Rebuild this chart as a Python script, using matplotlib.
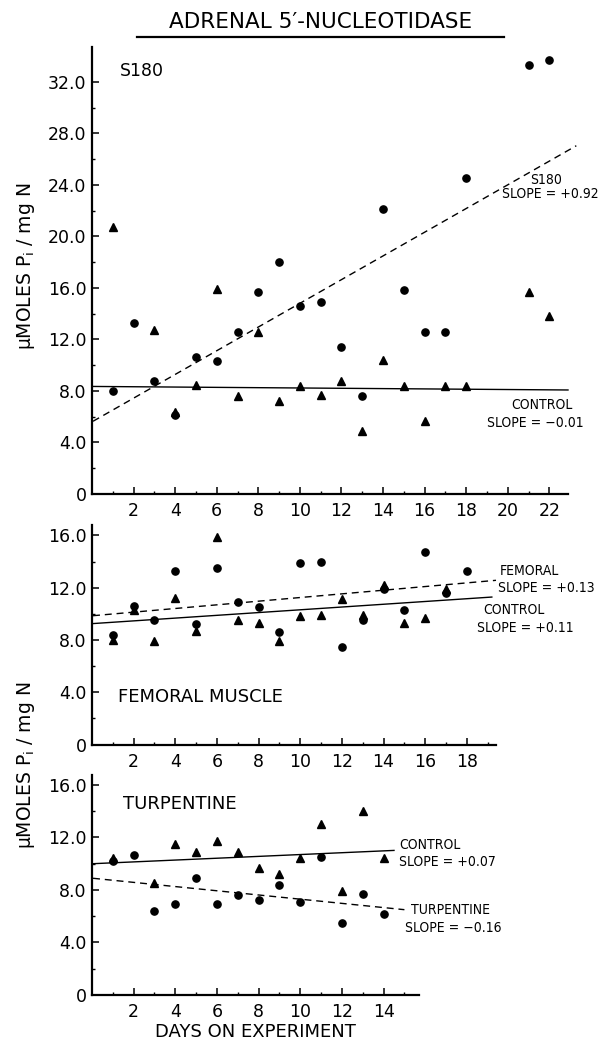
import numpy as np
import matplotlib
matplotlib.use("Agg")
import matplotlib.pyplot as plt
from matplotlib.lines import Line2D
from matplotlib.ticker import MultipleLocator, FixedLocator, FixedFormatter

plt.rcParams['font.family'] = ['DejaVu Sans']
plt.rcParams['mathtext.default'] = 'regular'

W, H = 605, 1040

# ---- S180 panel ----
s180_days = [1, 2, 3, 4, 5, 6, 7, 8, 9, 10, 11, 12, 13, 14, 15, 16, 17, 18, 21, 22]
s180_vals = [8.0, 13.3, 8.8, 6.1, 10.6, 10.3, 12.6, 15.7, 18.0, 14.6, 14.9, 11.4, 7.6,
             22.1, 15.8, 12.6, 12.6, 24.5, 33.3, 33.7]
s180_ctrl_days = [1, 3, 4, 5, 6, 7, 8, 9, 10, 11, 12, 13, 14, 15, 16, 17, 18, 21, 22]
s180_ctrl_vals = [20.7, 12.7, 6.4, 8.5, 15.9, 7.6, 12.6, 7.2, 8.4, 7.7, 8.8, 4.9, 10.4,
                  8.4, 5.7, 8.4, 8.4, 15.7, 13.8]

# ---- femoral muscle panel ----
fem_days = list(range(1, 19))
fem_vals = [8.4, 10.6, 9.5, 13.3, 9.2, 13.5, 10.9, 10.5, 8.6, 13.9, 14.0, 7.5, 9.5,
            11.9, 10.3, 14.7, 11.6, 13.3]
fem_ctrl_days = list(range(1, 18))
fem_ctrl_vals = [8.0, 10.3, 7.9, 11.2, 8.7, 15.9, 9.5, 9.3, 7.9, 9.8, 9.9, 11.1, 9.9,
                 12.2, 9.3, 9.7, 11.9]

# ---- turpentine panel ----
turp_days = list(range(1, 15))
turp_vals = [10.2, 10.7, 6.4, 6.9, 8.9, 6.9, 7.6, 7.2, 8.4, 7.1, 10.5, 5.5, 7.7, 6.2]
turp_ctrl_days = [1, 3, 4, 5, 6, 7, 8, 9, 10, 11, 12, 13, 14]
turp_ctrl_vals = [10.4, 8.5, 11.5, 10.9, 11.7, 10.9, 9.7, 9.2, 10.4, 13.0, 7.9, 14.0, 10.4]

# regression lines: (intercept, slope, last day)
s180_fit = (5.6, 0.92, 23.3)
s180_ctrl_fit = (8.35, -0.012, 22.9)
fem_fit = (9.85, 0.14, 19.4)
fem_ctrl_fit = (9.25, 0.106, 19.2)
turp_fit = (8.9, -0.16, 15.0)
turp_ctrl_fit = (10.0, 0.07, 14.5)


def px_axes(fig, x0, x1, y_top, y_bot):
    return fig.add_axes([x0 / W, 1 - y_bot / H, (x1 - x0) / W, (y_bot - y_top) / H])


def style_axes(ax, xmax, ymax, yticks, xticks):
    ax.set_xlim(0, xmax)
    ax.set_ylim(0, ymax)
    for s in ['top', 'right']:
        ax.spines[s].set_visible(False)
    for s in ['left', 'bottom']:
        ax.spines[s].set_linewidth(1.6)
    ax.yaxis.set_major_locator(FixedLocator(yticks))
    ax.yaxis.set_major_formatter(FixedFormatter(['0'] + ['%.1f' % v for v in yticks[1:]]))
    ax.yaxis.set_minor_locator(FixedLocator([v + 2 for v in yticks[:-1]]))
    ax.xaxis.set_major_locator(FixedLocator(xticks))
    ax.xaxis.set_major_formatter(FixedFormatter([str(v) for v in xticks]))
    ax.xaxis.set_minor_locator(FixedLocator([v - 1 for v in xticks] + [xticks[-1] + 1]))
    ax.tick_params(which='major', direction='in', length=5, width=1.1, labelsize=12.5, pad=4)
    ax.tick_params(which='minor', direction='in', length=2.5, width=1.0)
    ax.tick_params(axis='x', pad=6)


def fit_line(ax, fit, style):
    b, m, xe = fit
    xs = np.array([0.05, xe])
    ax.plot(xs, b + m * xs, color='k', lw=1.0, linestyle=style, clip_on=False,
            dashes=(5, 3.5) if style == '--' else (None, None))


def ftext(fig, x, y, s, **kw):
    fig.text(x / W, 1 - y / H, s, **kw)


fig = plt.figure(figsize=(W / 100, H / 100), dpi=100)

narrow = dict(family=['Liberation Sans Narrow', 'DejaVu Sans'], fontstretch='condensed',
              fontsize=10)

# top panel
ax1 = px_axes(fig, 92, 568, 47, 494)
style_axes(ax1, 22.9, 34.7, [0, 4, 8, 12, 16, 20, 24, 28, 32], list(range(2, 23, 2)))
fit_line(ax1, s180_fit, '--')
fit_line(ax1, s180_ctrl_fit, '-')
ax1.plot(s180_days, s180_vals, 'o', color='k', ms=5.2, clip_on=False)
ax1.plot(s180_ctrl_days, s180_ctrl_vals, '^', color='k', ms=5.2, clip_on=False)
ax1.text(1.35, 32.8, 'S180', fontsize=12.5, va='center')

# middle panel
ax2 = px_axes(fig, 92, 496, 525, 744.5)
style_axes(ax2, 19.4, 16.8, [0, 4, 8, 12, 16], list(range(2, 19, 2)))
fit_line(ax2, fem_fit, '--')
fit_line(ax2, fem_ctrl_fit, '-')
ax2.plot(fem_days, fem_vals, 'o', color='k', ms=5.2, clip_on=False)
ax2.plot(fem_ctrl_days, fem_ctrl_vals, '^', color='k', ms=5.2, clip_on=False)
ax2.text(1.25, 3.6, 'FEMORAL MUSCLE', fontsize=13, va='center')

# bottom panel
ax3 = px_axes(fig, 92, 419, 775, 995)
style_axes(ax3, 15.7, 16.76, [0, 4, 8, 12, 16], list(range(2, 15, 2)))
fit_line(ax3, turp_fit, '--')
fit_line(ax3, turp_ctrl_fit, '-')
ax3.plot(turp_days, turp_vals, 'o', color='k', ms=5.2, clip_on=False)
ax3.plot(turp_ctrl_days, turp_ctrl_vals, '^', color='k', ms=5.2, clip_on=False)
ax3.text(1.5, 14.55, 'TURPENTINE', fontsize=13, va='center')
ax3.set_xlabel('DAYS ON EXPERIMENT', fontsize=13, labelpad=1)

# title with underline
ftext(fig, 321, 22, "ADRENAL 5\u2032-NUCLEOTIDASE", fontsize=15.5, ha='center', va='center')
fig.add_artist(Line2D([137 / W, 504 / W], [1 - 37 / H] * 2, color='k', lw=1.6))

# y labels
ylab = r"$\mu$MOLES P$_{i}$ / mg N"
ftext(fig, 26, 266, ylab, fontsize=13.5, rotation=90, ha='center', va='center')
ftext(fig, 26, 765, ylab, fontsize=13.5, rotation=90, ha='center', va='center')

# fit annotations
ftext(fig, 546, 180, 'S180', ha='center', va='center', **narrow)
ftext(fig, 599, 194, 'SLOPE = +0.92', ha='right', va='center', **narrow)
ftext(fig, 542, 405, 'CONTROL', ha='center', va='center', **narrow)
ftext(fig, 584, 423, 'SLOPE = \u22120.01', ha='right', va='center', **narrow)

ftext(fig, 500, 571, 'FEMORAL', ha='left', va='center', **narrow)
ftext(fig, 498, 588, 'SLOPE = +0.13', ha='left', va='center', **narrow)
ftext(fig, 483, 610, 'CONTROL', ha='left', va='center', **narrow)
ftext(fig, 477, 628, 'SLOPE = +0.11', ha='left', va='center', **narrow)

ftext(fig, 399, 845, 'CONTROL', ha='left', va='center', **narrow)
ftext(fig, 399, 862, 'SLOPE = +0.07', ha='left', va='center', **narrow)
ftext(fig, 411, 910, 'TURPENTINE', ha='left', va='center', **narrow)
ftext(fig, 405, 928, 'SLOPE = \u22120.16', ha='left', va='center', **narrow)

fig.savefig('out.png', dpi=100)
